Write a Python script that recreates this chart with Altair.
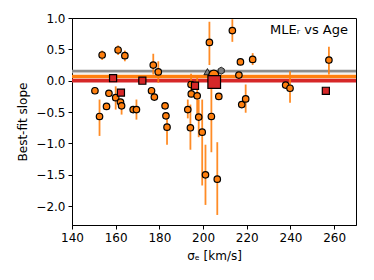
import altair as alt
import pandas as pd

# individual galaxies: sigma_e, slope, error low, error high
pt_x = [150.5, 152.6, 153.8, 155.8, 156.9, 160.0, 161.1, 162.2, 162.7, 164.2,
        168.0, 169.5, 176.4, 177.2, 177.7, 179.5, 182.6, 183.0, 183.5, 193.0,
        194.2, 194.5, 194.6, 197.3, 198.0, 199.6, 201.1, 202.9, 203.8, 206.5,
        207.2, 213.4, 216.4, 217.1, 217.7, 219.5, 222.7, 237.8, 239.8, 257.6]
pt_y = [-0.16, -0.57, 0.41, -0.41, -0.20, -0.27, 0.49, -0.34, -0.40, 0.40,
        -0.46, -0.46, -0.16, 0.25, -0.26, 0.14, -0.40, -0.56, -0.74, -0.46,
        -0.75, -0.06, -0.21, -0.24, -0.58, -0.82, -1.50, 0.61, -0.57, -1.57,
        -0.25, 0.80, 0.09, 0.30, -0.38, -0.29, 0.34, -0.07, -0.12, 0.33]
pt_lo = [-0.20, -0.88, 0.33, -0.45, -0.24, -0.46, 0.41, -0.38, -0.54, 0.31,
         -0.50, -0.62, -0.20, 0.10, -0.30, -0.03, -0.44, -0.60, -1.02, -0.60,
         -1.10, -0.20, -0.25, -0.62, -0.90, -1.67, -1.98, 0.25, -1.14, -2.14,
         -0.29, 0.62, 0.05, 0.26, -0.42, -0.51, 0.25, -0.11, -0.35, 0.10]
pt_hi = [-0.12, -0.30, 0.48, -0.37, -0.16, -0.09, 0.56, -0.30, -0.30, 0.48,
         -0.42, -0.30, -0.12, 0.43, -0.22, 0.31, -0.36, -0.52, -0.60, -0.30,
         -0.38, 0.11, -0.17, 0.05, -0.30, -0.30, -1.02, 0.94, 0.00, -0.98,
         -0.21, 0.98, 0.13, 0.34, -0.34, -0.06, 0.44, -0.03, 0.15, 0.54]

# red squares
sq_x = [158.8, 162.4, 172.2, 196.3, 256.2]
sq_y = [0.04, -0.19, 0.00, -0.08, -0.16]

# horizontal bands (fit results)
band_lo = [0.12, 0.135, 0.04, -0.03]
band_hi = [0.135, 0.175, 0.095, 0.03]
band_col = ["#cccccc", "#8c8c8c", "#ff7f0e", "#d62728"]

# summary markers
sum_x = [202.0, 208.3]
sum_y = [0.145, 0.16]
big_orange = (204.9, 0.09)
big_red = (205.1, -0.02)

x_ticks = [140, 160, 180, 200, 220, 240, 260]
y_ticks = [1.0, 0.5, 0.0, -0.5, -1.0, -1.5, -2.0]

W, H = 284, 207
xs = alt.Scale(domain=[140, 270], nice=False, zero=False)
ys = alt.Scale(domain=[-2.3, 1.0], nice=False, zero=False)

pts = pd.DataFrame({"x": pt_x, "y": pt_y, "lo": pt_lo, "hi": pt_hi})
sqs = pd.DataFrame({"x": sq_x, "y": sq_y})
bands = pd.DataFrame({"lo": band_lo, "hi": band_hi, "c": band_col})
grays = pd.DataFrame({"x": sum_x, "y": sum_y, "s": ["triangle-up",
    "M0,-1L0.866,-0.5L0.866,0.5L0,1L-0.866,0.5L-0.866,-0.5Z"]})
bo = pd.DataFrame({"x": [big_orange[0]], "y": [big_orange[1]]})
br = pd.DataFrame({"x": [big_red[0]], "y": [big_red[1]]})

xax = alt.Axis(values=x_ticks, format="d", title="σₑ [km/s]", grid=False,
               labelFlush=False, labelOverlap=False)
yax = alt.Axis(values=y_ticks, format=".1f", title="Best-fit slope", grid=False,
               labelOverlap=False, labelFlush=False)


def X(f):
    return alt.X(f, scale=xs, axis=xax)


def Y(f):
    return alt.Y(f, scale=ys, axis=yax)


band_layer = alt.Chart(bands).mark_rect().encode(
    x=alt.value(0), x2=alt.value(W),
    y=Y("lo:Q"), y2="hi:Q",
    color=alt.Color("c:N", scale=None))

err = alt.Chart(pts).mark_rule(color="#ff7f0e", strokeWidth=1.8, opacity=0.9).encode(
    x=X("x:Q"), y=Y("lo:Q"), y2="hi:Q")

circ = alt.Chart(pts).mark_point(shape="circle", filled=True, fill="#ff7f0e",
                                 stroke="black", strokeWidth=1.2, size=42, opacity=1).encode(
    x=X("x:Q"), y=Y("y:Q"))

sq = alt.Chart(sqs).mark_point(shape="square", filled=True, fill="#d62728",
                               stroke="black", strokeWidth=1.2, size=50, opacity=1).encode(
    x=X("x:Q"), y=Y("y:Q"))

gr = alt.Chart(grays).mark_point(filled=True, fill="#7f7f7f", stroke="black",
                                 strokeWidth=0.8, size=50, opacity=1).encode(
    x=X("x:Q"), y=Y("y:Q"),
    shape=alt.Shape("s:N", scale=None))

bigo = alt.Chart(bo).mark_point(shape="circle", filled=True, fill="#ff7f0e",
                                stroke="black", strokeWidth=1.2, size=100, opacity=1).encode(
    x=X("x:Q"), y=Y("y:Q"))

bigr = alt.Chart(br).mark_point(shape="square", filled=True, fill="#d62728",
                                stroke="black", strokeWidth=1.2, size=160, opacity=1).encode(
    x=X("x:Q"), y=Y("y:Q"))

label = alt.Chart(pd.DataFrame({"t": ["MLEᵣ vs Age"]})).mark_text(
    align="right", baseline="middle", fontSize=13, font="DejaVu Sans", color="black").encode(
    x=alt.value(W - 8), y=alt.value(12), text="t:N")

chart = alt.layer(band_layer, err, circ, sq, gr, bigo, bigr, label).properties(
    width=W, height=H,
    autosize=alt.AutoSizeParams(type="none"),
    padding={"left": 64, "top": 10, "right": 10, "bottom": 45},
).configure_axis(
    labelFont="DejaVu Sans", titleFont="DejaVu Sans", labelFontSize=12,
    titleFontSize=12, titleFontWeight="normal", labelColor="black",
    titleColor="black", domainColor="black", tickColor="black",
    tickSize=4, labelPadding=3, domainWidth=1
).configure_axisX(titlePadding=7).configure_axisY(titlePadding=6).configure_view(
    stroke="black", strokeWidth=1)

chart.save("out.html", embed_options={"renderer": "svg", "actions": False})
